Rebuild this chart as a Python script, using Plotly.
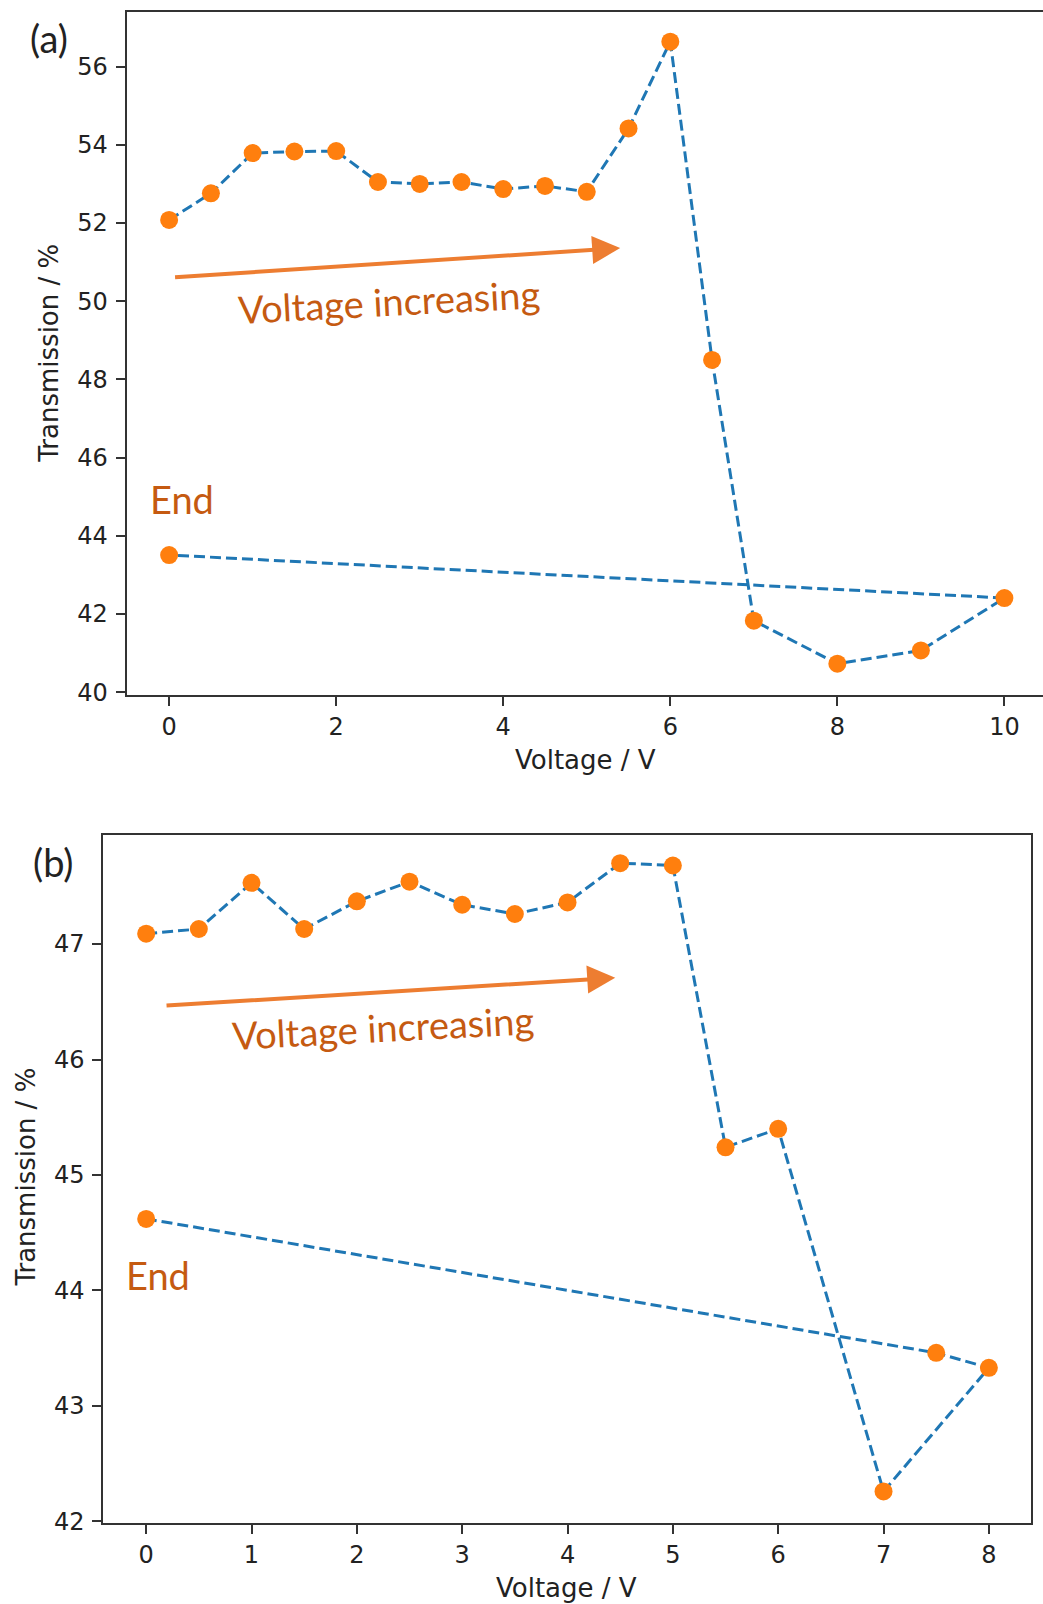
import plotly.graph_objects as go

# ---------------- data ----------------
volt_a = [0, 0.5, 1, 1.5, 2, 2.5, 3, 3.5, 4, 4.5, 5, 5.5, 6, 6.5, 7, 8, 9, 10, 0]
trans_a = [52.08, 52.76, 53.79, 53.83, 53.84, 53.05, 53.00, 53.05, 52.87, 52.95,
           52.80, 54.42, 56.64, 48.50, 41.83, 40.73, 41.07, 42.41, 43.51]

volt_b = [0, 0.5, 1, 1.5, 2, 2.5, 3, 3.5, 4, 4.5, 5, 5.5, 6, 7, 8, 7.5, 0]
trans_b = [47.09, 47.13, 47.53, 47.13, 47.37, 47.54, 47.34, 47.26, 47.36, 47.70,
           47.68, 45.24, 45.40, 42.26, 43.33, 43.46, 44.62]

ticks_xa = [0, 2, 4, 6, 8, 10]
ticks_ya = [40, 42, 44, 46, 48, 50, 52, 54, 56]
ticks_xb = [0, 1, 2, 3, 4, 5, 6, 7, 8]
ticks_yb = [42, 43, 44, 45, 46, 47]

x_title = "Voltage / V"
y_title = "Transmission / %"
arrow_text = "Voltage increasing"
end_text = "End"

# ---------------- style ----------------
W, H = 1043, 1604
LINE_BLUE = "#1f77b4"
DOT_ORANGE = "#ff7f0e"
ARROW_ORANGE = "#ED7D31"
TEXT_ORANGE = "#C55A11"
AXIS_COL = "#333333"
TICK_FONT = dict(family="DejaVu Sans", size=24, color="#222222")
TITLE_FONT = dict(family="DejaVu Sans", size=26, color="#222222")
NOTE_FONT = "Lato"

fig = go.Figure()

for xs, ys, xa, ya in [(volt_a, trans_a, "x", "y"), (volt_b, trans_b, "x2", "y2")]:
    fig.add_trace(go.Scatter(x=xs, y=ys, xaxis=xa, yaxis=ya, mode="lines",
                             line=dict(color=LINE_BLUE, width=3, dash="11px,5px"),
                             showlegend=False, hoverinfo="skip"))
    fig.add_trace(go.Scatter(x=xs, y=ys, xaxis=xa, yaxis=ya, mode="markers",
                             marker=dict(color=DOT_ORANGE, size=18, line=dict(width=0)),
                             showlegend=False))

axis_common = dict(showline=True, linecolor=AXIS_COL, linewidth=2, ticks="outside",
                   ticklen=9, tickwidth=2, tickcolor=AXIS_COL, showgrid=False,
                   zeroline=False, tickfont=TICK_FONT, automargin=False)

fig.update_layout(
    width=W, height=H, margin=dict(l=0, r=0, t=0, b=0, pad=0, autoexpand=False),
    paper_bgcolor="white", plot_bgcolor="white",
    xaxis=dict(domain=[126.7 / W, 1.0], range=[-0.508, 10.462], tickvals=ticks_xa,
               anchor="y", mirror=True, **axis_common),
    yaxis=dict(domain=[1 - 695 / H, 1 - 12.3 / H], range=[39.93, 57.39], tickvals=ticks_ya,
               anchor="x", mirror=False, ticklabelstandoff=3, **axis_common),
    xaxis2=dict(domain=[103.3 / W, 1031 / W], range=[-0.407, 8.40], tickvals=ticks_xb,
                anchor="y2", mirror=True, **axis_common),
    yaxis2=dict(domain=[1 - 1523.3 / H, 1 - 835 / H], range=[41.984, 47.944], tickvals=ticks_yb,
                anchor="x2", mirror=True, ticklabelstandoff=3, **axis_common),
)

anns = []
# axis titles
anns.append(dict(text=x_title, xref="paper", yref="paper", x=585 / W, y=1 - 760 / H,
                 showarrow=False, font=TITLE_FONT, xanchor="center", yanchor="middle"))
anns.append(dict(text=x_title, xref="paper", yref="paper", x=566 / W, y=1 - 1588 / H,
                 showarrow=False, font=TITLE_FONT, xanchor="center", yanchor="middle"))
anns.append(dict(text=y_title, xref="paper", yref="paper", x=49 / W, y=1 - 353.7 / H,
                 showarrow=False, font=TITLE_FONT, textangle=-90, xanchor="center", yanchor="middle"))
anns.append(dict(text=y_title, xref="paper", yref="paper", x=25.6 / W, y=1 - 1177 / H,
                 showarrow=False, font=TITLE_FONT, textangle=-90, xanchor="center", yanchor="middle"))
# panel labels
anns.append(dict(text="(a)", xref="paper", yref="paper", x=49 / W, y=1 - 37.5 / H,
                 showarrow=False, font=dict(family=NOTE_FONT, size=38, color="#222222"),
                 xanchor="center", yanchor="middle"))
anns.append(dict(text="(b)", xref="paper", yref="paper", x=53 / W, y=1 - 861.7 / H,
                 showarrow=False, font=dict(family=NOTE_FONT, size=38, color="#222222"),
                 xanchor="center", yanchor="middle"))
# arrows
anns.append(dict(text="", x=5.40, y=51.36, ax=0.053, ay=50.61, xref="x", yref="y",
                 axref="x", ayref="y", showarrow=True, arrowhead=2, arrowsize=1.4,
                 arrowwidth=4, arrowcolor=ARROW_ORANGE))
anns.append(dict(text="", x=4.453, y=46.708, ax=0.179, ay=46.466, xref="x2", yref="y2",
                 axref="x2", ayref="y2", showarrow=True, arrowhead=2, arrowsize=1.4,
                 arrowwidth=4, arrowcolor=ARROW_ORANGE))
# notes
note_font = dict(family=NOTE_FONT, size=38, color=TEXT_ORANGE)
anns.append(dict(text=arrow_text, x=2.635, y=50.01, xref="x", yref="y", showarrow=False,
                 font=note_font, textangle=-3, xanchor="center", yanchor="middle"))
anns.append(dict(text=arrow_text, x=2.25, y=46.28, xref="x2", yref="y2", showarrow=False,
                 font=note_font, textangle=-3, xanchor="center", yanchor="middle"))
anns.append(dict(text=end_text, x=0.157, y=44.94, xref="x", yref="y", showarrow=False,
                 font=note_font, xanchor="center", yanchor="middle"))
anns.append(dict(text=end_text, x=0.112, y=44.13, xref="x2", yref="y2", showarrow=False,
                 font=note_font, xanchor="center", yanchor="middle"))

fig.update_layout(annotations=anns)
fig.write_html(
    "out.html",
    config={"displayModeBar": False},
    post_script="document.body.style.margin='0';document.body.style.padding='0';"
                "document.documentElement.style.overflow='hidden';",
)
